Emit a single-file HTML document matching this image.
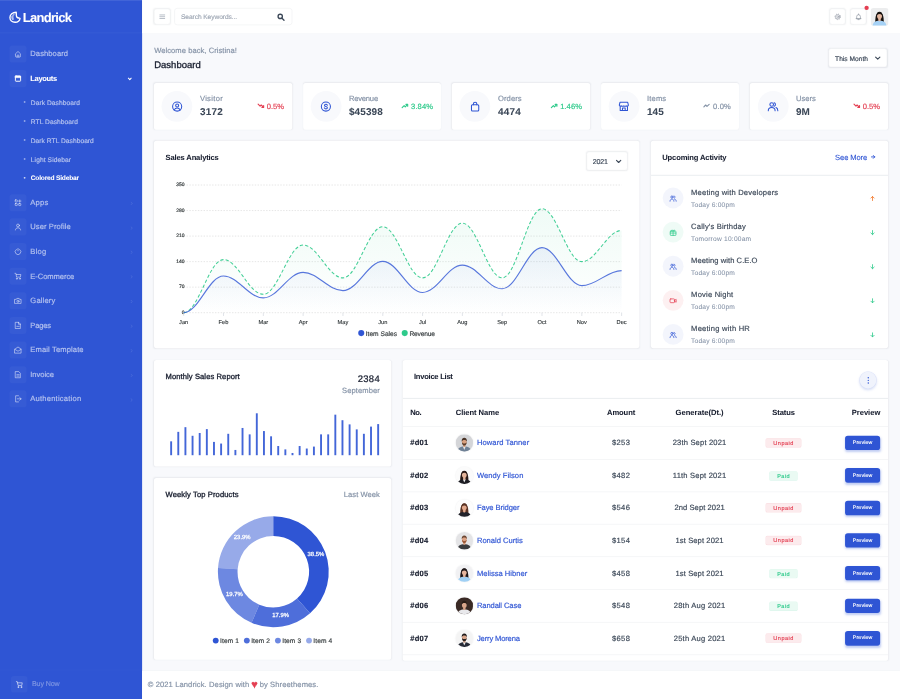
<!DOCTYPE html>
<html lang="en">
<head>
<meta charset="utf-8">
<title>Landrick - Dashboard</title>
<style>
*{box-sizing:border-box;margin:0;padding:0}
html,body{width:900px;height:699px;overflow:hidden;background:#f8f9fc}
body{font-family:"Liberation Sans",Arial,sans-serif;color:#3c4858}
#app{position:absolute;left:0;top:0;width:1900px;height:1476px;transform:scale(.4736842);transform-origin:0 0;text-rendering:geometricPrecision;-webkit-text-stroke:.35px;background:#f8f9fc;font-size:16px}
a{text-decoration:none;color:inherit}
ul{list-style:none}
.abs{position:absolute}
svg{display:block;overflow:visible}
/* sidebar */
#sidebar{position:absolute;left:0;top:0;width:300px;height:1476px;background:#2f55d4;color:#fff}
#sidebar .brand{position:absolute;left:0;top:0;width:300px;height:70px;border-bottom:1px solid rgba(255,255,255,.07);border-top:2px solid rgba(255,255,255,.09)}
#sidebar .brand>svg{position:absolute;left:19px;top:21.5px}
#sidebar .brand>span{position:absolute;left:48px;top:17px;font-size:27.5px;font-weight:700;line-height:36px;white-space:nowrap}
.menu li{position:absolute;left:0;width:300px;height:52px}
.menu li .ic{position:absolute;left:20px;top:8px;width:36px;height:36px;border-radius:6px;background:rgba(255,255,255,.035)}
.menu li .ic svg{position:absolute;left:10px;top:10px;width:16px;height:16px;stroke:rgba(255,255,255,.52);fill:none;stroke-width:2;stroke-linecap:round;stroke-linejoin:round}
.menu li.act .ic svg{stroke:#fff}
.menu li .t{position:absolute;left:64px;top:8px;line-height:36px;font-size:16px;color:rgba(255,255,255,.56);white-space:nowrap}
.menu li.act .t{color:#fff;font-weight:700}
.menu li .ar{position:absolute;left:274px;top:25.3px;width:5px;height:5px;border-right:1.5px solid rgba(255,255,255,.16);border-bottom:1.5px solid rgba(255,255,255,.16);transform:rotate(-45deg)}
.menu li.act .ar{border-color:#fff;transform:rotate(45deg);top:22px;left:271px;width:6px;height:6px;border-width:2.2px}
.sub li{position:absolute;left:0;width:300px;height:40px}
.sub li .t{position:absolute;left:65px;top:-1.2px;line-height:40px;font-size:14px;color:rgba(255,255,255,.56);white-space:nowrap}
.sub li:before{content:"";position:absolute;left:49.5px;top:17.8px;width:4.5px;height:3.2px;border-radius:1.6px;background:rgba(255,255,255,.6)}
.sub li.act .t{color:#fff;font-weight:700}
.sub li.act:before{background:#fff}
.sfoot{position:absolute;left:0;top:1414px;width:300px;height:62px;border-top:1px solid rgba(255,255,255,.04)}
.sfoot .ic{position:absolute;left:22.5px;top:11.5px;width:35.5px;height:35.5px;border-radius:6px;background:rgba(255,255,255,.035)}
.sfoot .t{position:absolute;left:67.5px;top:0;line-height:57px;font-size:15px;color:rgba(255,255,255,.3);white-space:nowrap}
.sfoot svg{position:absolute;left:32.5px;top:21.5px;width:16px;height:16px;stroke:rgba(255,255,255,.6);fill:none;stroke-width:2;stroke-linecap:round;stroke-linejoin:round}
/* header */
#top{position:absolute;left:300px;top:0;width:1600px;height:70px;background:#fff;box-shadow:0 .5px 3px rgba(60,72,88,.2)}
.btn-ic{position:absolute;width:34.7px;height:34.5px;border:1px solid #e9ecef;border-radius:6px;background:#fff;box-shadow:0 0 3px rgba(60,72,88,.08)}
.btn-ic svg{position:absolute;left:9px;top:9px;width:15px;height:15px;stroke:#8d94a0;fill:none;stroke-width:1.5;stroke-linecap:round;stroke-linejoin:round}
.search{position:absolute;left:68px;top:17px;width:249.3px;height:36px;border:1px solid #e9ecef;border-radius:6px;background:#fff}
.search .ph{position:absolute;left:13px;top:0px;line-height:34px;font-size:14px;color:#97a0ae;-webkit-text-stroke:.2px}
.search svg{position:absolute;left:216px;top:10px;width:16px;height:16px;stroke:#3c4858;fill:none;stroke-width:3;stroke-linecap:round}
.avatar{position:absolute;border-radius:6px;overflow:hidden}
/* cards */
.card{position:absolute;background:#fff;border-radius:6px;box-shadow:0 0 3px rgba(60,72,88,.08)}
.h6{position:absolute;font-size:16px;font-weight:700;color:#161c2d;white-space:nowrap;line-height:20px}
.muted{color:#8492a6}
#sidebar .brand>span,.menu li.act .t,.sub li.act .t,.h6,.stat .vl,.th{-webkit-text-stroke:.1px}
.row .no{-webkit-text-stroke:.3px}
.act-i .d{-webkit-text-stroke:.12px}
.f{position:relative;top:1.05px}
.sb{font-weight:400!important;-webkit-text-stroke:.65px currentColor!important}
.stat .circ{position:absolute;left:16.2px;top:17.2px;width:65px;height:65px;border-radius:50%;background:#f8f9fc}
.stat .circ svg{position:absolute;left:20.5px;top:20.7px;width:24px;height:24px;stroke:#2f55d4;fill:none;stroke-width:2.3;stroke-linecap:round;stroke-linejoin:round}
.stat .lb{position:absolute;left:97px;top:23.4px;font-size:16px;line-height:20px;color:#8492a6;white-space:nowrap}
.stat .vl{position:absolute;left:97px;top:46.4px;font-size:21px;line-height:26px;font-weight:700;color:#3c4858;white-space:nowrap}
.stat .pc{position:absolute;right:17px;top:40.5px;font-size:16px;line-height:20px;white-space:nowrap}
.stat .pc svg{display:inline-block;width:15px;height:11.2px;fill:none;stroke-width:2.6;stroke-linecap:round;stroke-linejoin:round;vertical-align:0;margin-right:5px}
.red{color:#e43f52}.grn{color:#2eca8b}.gry{color:#8492a6}
.red svg{stroke:#e43f52}.grn svg{stroke:#2eca8b}.gry svg{stroke:#8492a6}
.sel{position:absolute;border:1px solid #e9ecef;border-radius:6px;background:#fff;font-size:14px;color:#3c4858;box-shadow:0 0 3px rgba(60,72,88,.1)}
.sel>span{position:absolute;left:13px;top:1px;white-space:nowrap}
.sel svg{position:absolute;width:12px;height:8px;stroke:#3c4858;fill:none;stroke-width:2.4;stroke-linecap:round;stroke-linejoin:round}
.act-i{position:absolute;left:0;width:501px;height:72px}
.act-i .c{position:absolute;left:25px;top:0;width:44px;height:44px;border-radius:50%}
.act-i .c svg{position:absolute;left:14px;top:14.5px;width:16px;height:16px;fill:none;stroke-width:1.8;stroke-opacity:.85;stroke-linecap:round;stroke-linejoin:round}
.act-i .n{position:absolute;left:85px;top:0px;font-size:16px;line-height:20px;color:#3c4858;white-space:nowrap}
.act-i .d{position:absolute;left:85px;top:26px;font-size:14px;line-height:18px;color:#8492a6;white-space:nowrap}
.act-i .a{position:absolute;left:461.5px;top:16.5px;width:12px;height:12px;fill:none;stroke-width:2;stroke-linecap:round;stroke-linejoin:round}
/* table */
.th{position:absolute;top:96px;font-size:16px;font-weight:700;color:#161c2d;line-height:20px;white-space:nowrap}
.row{position:absolute;left:0;width:1025px;height:69px;border-top:1.5px solid #e9ecef}
.row>div{position:absolute;top:0;line-height:66.5px;font-size:16px;white-space:nowrap}
.row .no{left:16px;font-weight:700;color:#161c2d}
.row .nm{left:156px;color:#2f55d4}
.row .av{left:112px;top:15.8px;width:36.4px;height:36.4px;border-radius:50%;overflow:hidden;box-shadow:0 0 3px rgba(60,72,88,.15)}
.row .am{left:404px;width:100px;text-align:center;color:#3c4858}
.row .dt{left:520px;width:210px;text-align:center;color:#3c4858}
.row .st{left:766px;top:23.5px;width:76px;height:20px;line-height:18.5px;border-radius:4px;font-size:11px;font-weight:400;-webkit-text-stroke:.3px currentColor;text-align:center}
.row .st.u{background:rgba(228,63,82,.1);color:#e43f52;border:1px solid rgba(228,63,82,.1)}
.row .st.p{background:rgba(46,202,139,.1);color:#2eca8b;border:1px solid rgba(46,202,139,.1);margin-top:1.3px}
.row .bt{left:935px;top:18.5px;width:74.5px;height:30.5px;line-height:29.5px;border-radius:6px;background:#2f55d4;color:#fff;font-size:11px;font-weight:400;-webkit-text-stroke:.3px #fff;text-align:center;box-shadow:0 3px 5px 0 rgba(47,85,212,.3)}
footer{position:absolute;left:300px;top:1416px;width:1600px;height:60px;background:#fff;box-shadow:0 0 3px rgba(60,72,88,.15)}
footer p{position:absolute;left:12px;top:0;line-height:60px;font-size:16px;color:#8492a6;white-space:nowrap}
footer p b{color:#e43f52;font-weight:400;font-size:23px;line-height:0;letter-spacing:0;position:relative;top:1.5px;margin:0 -.5px;-webkit-text-stroke:.6px #e43f52}
</style>
</head>
<body>
<div id="app">

<nav id="sidebar">
<a class="brand" href="#"><svg width="27.5" height="27.5" viewBox="0 0 26 26" fill="none" stroke="#fff" stroke-linecap="round" stroke-linejoin="round" style="margin:-1px 0 0 -1px"><path d="M15.4 2.8C8 2.8 2.8 7.2 2.8 13.2c0 5.800 4.700 9.400 10.200 9.400 5.300 0 9.300-3.300 10-7.800-2.600-.3-5.800-.9-6.700-2.800-1-2.200-.7-6-.9-9.200z" stroke-width="2.700"/><path d="M10.800 6.500C8.5 9 7.5 13 9.5 16.5" stroke-width="3.200" stroke-opacity=".5"/><path d="M6.5 11.500c-.3 2 .3 4 1.5 5.5" stroke-width="2.5" stroke-opacity=".55"/></svg><span><span class="f" style="font-size:27.5px;letter-spacing:-1.54px">Landrick</span></span></a>
<ul class="menu">
<li style="top:87.5px"><a href="#"><span class="ic"><svg viewBox="0 0 16 16" ><path d="M3 7.300l5-4.600 5 4.600v6.200c0 .6-.4 1-1 1H4c-.6 0-1-.4-1-1z"/><path d="M6.300 14v-2.600a1.700 1.700 0 0 1 3.400 0V14"/></svg></span><span class="t"><span class="f" style="font-size:16.0px;letter-spacing:0.16px">Dashboard</span></span></a></li>
<li class="act" style="top:139.5px"><a href="#"><span class="ic"><svg viewBox="0 0 16 16" ><rect x="2.5" y="2.5" width="11" height="11" rx="1.2"/><path d="M2.5 2.5h11v3.5h-11z" style="fill:#fff;stroke-width:1"/></svg></span><span class="t"><span class="f" style="font-size:16.0px;letter-spacing:-0.79px">Layouts</span></span><i class="ar"></i></a></li>
</ul><ul class="sub">
<li style="top:196.5px"><a href="#"><span class="t"><span class="f" style="font-size:14.0px;letter-spacing:0.15px">Dark Dashboard</span></span></a></li>
<li style="top:236.5px"><a href="#"><span class="t"><span class="f" style="font-size:14.0px;letter-spacing:0.13px">RTL Dashboard</span></span></a></li>
<li style="top:276.5px"><a href="#"><span class="t"><span class="f" style="font-size:14.0px;letter-spacing:0.09px">Dark RTL Dashboard</span></span></a></li>
<li style="top:316.5px"><a href="#"><span class="t"><span class="f" style="font-size:14.0px;letter-spacing:0.21px">Light Sidebar</span></span></a></li>
<li class="act" style="top:356.5px"><a href="#"><span class="t"><span class="f" style="font-size:14.0px;letter-spacing:-0.44px">Colored Sidebar</span></span></a></li>
</ul><ul class="menu">
<li style="top:401.5px"><a href="#"><span class="ic"><svg viewBox="0 0 16 16" ><rect x="2" y="2" width="4.5" height="4.5" rx="1"/><rect x="2" y="9.5" width="4.5" height="4.5" rx="1"/><rect x="9.5" y="9.5" width="4.5" height="4.5" rx="1"/><path d="M11.75 2v5M9.25 4.5h5"/></svg></span><span class="t"><span class="f" style="font-size:16.0px;letter-spacing:0.51px">Apps</span></span><i class="ar"></i></a></li>
<li style="top:453.4px"><a href="#"><span class="ic"><svg viewBox="0 0 16 16" ><circle cx="8" cy="5" r="3"/><path d="M2.5 14.5c0-3 2.5-4.5 5.5-4.5s5.5 1.5 5.5 4.5"/></svg></span><span class="t"><span class="f" style="font-size:16.0px;letter-spacing:0.17px">User Profile</span></span><i class="ar"></i></a></li>
<li style="top:505.2px"><a href="#"><span class="ic"><svg viewBox="0 0 16 16" ><path d="M8 1.500v5"/><path d="M4.5 3.500a6 6 0 1 0 7 0"/></svg></span><span class="t"><span class="f" style="font-size:16.0px;letter-spacing:0.58px">Blog</span></span><i class="ar"></i></a></li>
<li style="top:557.0px"><a href="#"><span class="ic"><svg viewBox="0 0 16 16" ><path d="M1.5 2h2l1.5 8h8l1-5.500H4.5"/><circle cx="5.5" cy="13.5" r="1"/><circle cx="12" cy="13.5" r="1"/></svg></span><span class="t"><span class="f" style="font-size:16.0px;letter-spacing:-0.15px">E-Commerce</span></span><i class="ar"></i></a></li>
<li style="top:608.9px"><a href="#"><span class="ic"><svg viewBox="0 0 16 16" ><path d="M1.5 5h3l1-2h5l1 2h3v8.500h-13z"/><circle cx="8" cy="9" r="2.300"/></svg></span><span class="t"><span class="f" style="font-size:16.0px;letter-spacing:0.35px">Gallery</span></span><i class="ar"></i></a></li>
<li style="top:660.8px"><a href="#"><span class="ic"><svg viewBox="0 0 16 16" ><path d="M3 1.500h6.500l3.5 3.500v9.500H3z"/><path d="M9 1.500v4h4"/><path d="M5.5 10h5"/></svg></span><span class="t"><span class="f" style="font-size:16.0px;letter-spacing:-0.42px">Pages</span></span><i class="ar"></i></a></li>
<li style="top:712.6px"><a href="#"><span class="ic"><svg viewBox="0 0 16 16" ><path d="M1.5 6l6.500-4.5 6.5 4.500v8.500h-13z"/><path d="M1.5 6.500l6.5 4 6.500-4"/></svg></span><span class="t"><span class="f" style="font-size:16.0px;letter-spacing:0.26px">Email Template</span></span><i class="ar"></i></a></li>
<li style="top:764.5px"><a href="#"><span class="ic"><svg viewBox="0 0 16 16" ><path d="M3 1.500h6.500l3.5 3.500v9.500H3z"/><path d="M5.5 8h5M5.5 11h5"/></svg></span><span class="t"><span class="f" style="font-size:16.0px;letter-spacing:-0.11px">Invoice</span></span><i class="ar"></i></a></li>
<li style="top:816.3px"><a href="#"><span class="ic"><svg viewBox="0 0 16 16" ><path d="M9 1.500H3v13h6"/><path d="M6.5 8h8M11.5 5l3 3-3 3"/></svg></span><span class="t"><span class="f" style="font-size:16.0px;letter-spacing:0.45px">Authentication</span></span><i class="ar"></i></a></li>
</ul>
<div class="sfoot"><span class="ic"></span><svg viewBox="0 0 16 16" ><path d="M1.5 2h2l1.5 8h8l1-5.500H4.5"/><circle cx="5.5" cy="13.5" r="1"/><circle cx="12" cy="13.5" r="1"/></svg><span class="t"><span class="f" style="font-size:15.0px;letter-spacing:-0.26px">Buy Now</span></span></div>
</nav>
<header id="top">
<a class="btn-ic" style="left:25px;top:17.800px" href="#"><svg viewBox="0 0 16 16" style="stroke:#b4bac4;stroke-width:2.100;stroke-linecap:butt"><path d="M1.800 3.800h12.600M1.800 7.800h12.600M1.800 11.800h12.600"/></svg></a>
<div class="search"><span class="ph"><span class="f" style="font-size:14.0px;letter-spacing:-0.16px">Search Keywords...</span></span><svg viewBox="0 0 17 17"><circle cx="7" cy="7" r="4.800"/><path d="M11 11l4.5 4.5"/></svg></div>
<a class="btn-ic" style="left:1450.8px;top:17.800px" href="#"><svg viewBox="0 0 16 16"><circle cx="8" cy="8" r="6.300" stroke-dasharray="2 2.950" style="stroke-width:1.600;stroke-linecap:butt"/><circle cx="8" cy="8" r="5" style="stroke-width:1.300"/><circle cx="8" cy="8" r="2.100" style="stroke-width:1.300"/></svg></a>
<a class="btn-ic" style="left:1494.5px;top:17.800px" href="#"><svg viewBox="0 0 16 16"><path d="M3.800 12V7.500a4.200 4.200 0 0 1 8.400 0V12zM2.5 12h11M7 14.300h2M8 1.500v1.5"/></svg><i class="abs" style="left:29.500px;top:-6.500px;width:8.600px;height:8.600px;border-radius:50%;background:#e43f52"></i></a>
<a class="avatar" style="left:1538.4px;top:16.500px;width:37.500px;height:37px" href="#"><svg width="37.5" height="37.5" viewBox="0 0 36 36"><rect width="36" height="36" fill="#ecedee"/><path d="M9.5 31c-.5-9 .5-23 8.500-23s9 14 8.5 23z" fill="#17120f"/><path d="M4 37c0-8 5-11.5 14-11.500s14 3.5 14 11.500z" fill="#a6d2f6"/><rect x="15.5" y="20" width="5" height="6.5" rx="2" fill="#e3b69f"/><ellipse cx="18" cy="16" rx="5" ry="6.300" fill="#e3b69f"/><path d="M12 17c-.8-6 2-9.5 6-9.500s6.800 3.5 6 9.500c-.8-3-2.500-5-6-5s-5.200 2-6 5z" fill="#17120f"/></svg></a>
</header>
<main>
<div class="abs muted" style="left:325.5px;top:96.5px;font-size:16px;line-height:20px;white-space:nowrap"><span class="f" style="font-size:16.0px;letter-spacing:0.11px">Welcome back, Cristina!</span></div>
<div class="abs sb" style="left:325.5px;top:124.5px;font-size:20px;line-height:26px;color:#161c2d;white-space:nowrap"><span class="f" style="top:0.21px;font-size:20.0px;letter-spacing:0.04px">Dashboard</span></div>
<div class="sel" style="left:1749px;top:102.3px;width:124px;height:40px;line-height:38px"><span><span class="f" style="font-size:14.0px;letter-spacing:0.02px">This Month</span></span><svg viewBox="0 0 12 8" style="left:96.5px;top:15.5px"><path d="M1.5 1.500l4.5 4.5 4.500-4.5"/></svg></div>
<div class="card stat" style="left:325.0px;top:175px;width:291.5px;height:98.5px"><div class="circ"><svg viewBox="0 0 25 25"><circle cx="12.5" cy="12.5" r="10"/><circle cx="12.5" cy="10.2" r="3.300"/><path d="M6.200 19.800c1.200-3 3.600-4.300 6.300-4.300s5.100 1.300 6.300 4.300" style="fill:#2f55d4;fill-opacity:.0"/></svg></div><div class="lb"><span class="f" style="font-size:16.0px;letter-spacing:0.66px">Visitor</span></div><div class="vl"><span class="f" style="top:2.63px;font-size:21.0px;letter-spacing:0.47px">3172</span></div><div class="pc red"><svg viewBox="-1 0 16 12"><path d="M1 2l4.5 4.5 2.500-2.5 5 5"/><path d="M9.5 9.500h4v-4" /></svg><span class="f" style="font-size:16.0px;letter-spacing:0.02px">0.5%</span></div></div>
<div class="card stat" style="left:639.6px;top:175px;width:291.5px;height:98.5px"><div class="circ"><svg viewBox="0 0 25 25"><circle cx="12.5" cy="12.5" r="10"/><path d="M15.700 9.700c-.6-1.400-1.800-2.100-3.200-2.100-1.800 0-3.100 1-3.100 2.400 0 3.100 6.400 1.800 6.400 5 0 1.500-1.400 2.500-3.300 2.500-1.600 0-2.800-.8-3.400-2.200"/></svg></div><div class="lb"><span class="f" style="font-size:16.0px;letter-spacing:-0.40px">Revenue</span></div><div class="vl"><span class="f" style="top:2.63px;font-size:21.0px;letter-spacing:0.26px">$45398</span></div><div class="pc grn"><svg viewBox="0 0 16 12"><path d="M1 10l4.500-4.5 2.5 2.5 5-5"/><path d="M9.5 2.500h4v4"/></svg><span class="f" style="font-size:16.0px;letter-spacing:0.16px">3.84%</span></div></div>
<div class="card stat" style="left:954.2px;top:175px;width:291.5px;height:98.5px"><div class="circ"><svg viewBox="0 0 25 25"><rect x="4.5" y="8.5" width="16" height="13.5" rx="2.200"/><path d="M8.700 8.500V7a3.800 3.800 0 0 1 7.600 0v1.5"/></svg></div><div class="lb"><span class="f" style="font-size:16.0px;letter-spacing:0.23px">Orders</span></div><div class="vl"><span class="f" style="top:2.63px;font-size:21.0px;letter-spacing:0.47px">4474</span></div><div class="pc grn"><svg viewBox="0 0 16 12"><path d="M1 10l4.500-4.5 2.5 2.5 5-5"/><path d="M9.5 2.500h4v4"/></svg><span class="f" style="font-size:16.0px;letter-spacing:0.16px">1.46%</span></div></div>
<div class="card stat" style="left:1268.8px;top:175px;width:291.5px;height:98.5px"><div class="circ"><svg viewBox="0 0 25 25"><g transform="translate(0 -.8)"><path d="M4 4h17l1.5 6a3 3 0 0 1-5 1.5 3.5 3.5 0 0 1-5 0 3.5 3.5 0 0 1-5 0 3 3 0 0 1-5-1.500z"/><path d="M4.5 13v9h16v-9"/><path d="M9.5 22v-5.500h6V22"/></g></svg></div><div class="lb"><span class="f" style="font-size:16.0px;letter-spacing:0.35px">Items</span></div><div class="vl"><span class="f" style="top:2.63px;font-size:21.0px;letter-spacing:0.11px">145</span></div><div class="pc gry"><svg viewBox="0 0 16 12"><path d="M1 8l4-4 3 3 5-4.5"/></svg><span class="f" style="font-size:16.0px;letter-spacing:0.37px">0.0%</span></div></div>
<div class="card stat" style="left:1583.4px;top:175px;width:291.5px;height:98.5px"><div class="circ"><svg viewBox="0 0 25 25"><circle cx="9.5" cy="8" r="4"/><path d="M2 21.500c0-4.5 3.500-7 7.500-7s7.5 2.5 7.5 7"/><path d="M15 4.200a4 4 0 0 1 0 7.600M19 14.500c2.5 1 4 3.5 4 7"/></svg></div><div class="lb"><span class="f" style="font-size:16.0px;letter-spacing:-0.05px">Users</span></div><div class="vl"><span class="f" style="top:2.63px;font-size:21.0px;letter-spacing:-0.25px">9M</span></div><div class="pc red"><svg viewBox="-1 0 16 12"><path d="M1 2l4.5 4.5 2.500-2.5 5 5"/><path d="M9.5 9.500h4v-4" /></svg><span class="f" style="font-size:16.0px;letter-spacing:0.02px">0.5%</span></div></div>
<div class="card" style="left:325px;top:297.2px;width:1024.5px;height:438.3px">
<div class="h6" style="left:24.5px;top:25px"><span class="f" style="font-size:16.0px;letter-spacing:-0.31px">Sales Analytics</span></div>
<div class="sel" style="left:913px;top:23.3px;width:87px;height:40px;line-height:38px;font-size:15px"><span style="left:12.500px"><span class="f" style="font-size:15.0px;letter-spacing:-0.43px">2021</span></span><svg viewBox="0 0 12 8" style="left:60.500px;top:15.500px"><path d="M1.5 1.500l4.5 4.5 4.500-4.5"/></svg></div>
<svg class="abs" style="left:0;top:0" width="1024" height="438" viewBox="0 0 1024 438" font-family="Liberation Sans, Arial, sans-serif"><defs><linearGradient id="g1" x1="0" y1="0" x2="0" y2="1"><stop offset="0" stop-color="#2f55d4" stop-opacity=".07"/><stop offset="1" stop-color="#2f55d4" stop-opacity="0"/></linearGradient><linearGradient id="g2" x1="0" y1="0" x2="0" y2="1"><stop offset="0" stop-color="#2eca8b" stop-opacity=".075"/><stop offset="1" stop-color="#2eca8b" stop-opacity="0"/></linearGradient></defs><line x1="62.8" y1="363.1" x2="987.3" y2="363.1" stroke="#e0e0e0" stroke-width="1.7" stroke-dasharray="3 3"/><text x="64.6" y="365.5" text-anchor="end" font-size="10.5" stroke="#373d3f" stroke-width="0.4" fill="#373d3f">0</text><line x1="62.8" y1="309.2" x2="987.3" y2="309.2" stroke="#e0e0e0" stroke-width="1.7" stroke-dasharray="3 3"/><text x="64.6" y="311.6" text-anchor="end" font-size="10.5" stroke="#373d3f" stroke-width="0.4" fill="#373d3f">70</text><line x1="62.8" y1="255.3" x2="987.3" y2="255.3" stroke="#e0e0e0" stroke-width="1.7" stroke-dasharray="3 3"/><text x="64.6" y="257.7" text-anchor="end" font-size="10.5" stroke="#373d3f" stroke-width="0.4" fill="#373d3f">140</text><line x1="62.8" y1="201.4" x2="987.3" y2="201.4" stroke="#e0e0e0" stroke-width="1.7" stroke-dasharray="3 3"/><text x="64.6" y="203.8" text-anchor="end" font-size="10.5" stroke="#373d3f" stroke-width="0.4" fill="#373d3f">210</text><line x1="62.8" y1="147.5" x2="987.3" y2="147.5" stroke="#e0e0e0" stroke-width="1.7" stroke-dasharray="3 3"/><text x="64.6" y="149.9" text-anchor="end" font-size="10.5" stroke="#373d3f" stroke-width="0.4" fill="#373d3f">280</text><line x1="62.8" y1="93.6" x2="987.3" y2="93.6" stroke="#e0e0e0" stroke-width="1.7" stroke-dasharray="3 3"/><text x="64.6" y="96.0" text-anchor="end" font-size="10.5" stroke="#373d3f" stroke-width="0.4" fill="#373d3f">350</text><path d="M62.8 363.1C93.9 363.1 115.7 251.1 146.8 251.1C178.0 251.1 199.8 324.2 230.9 324.2C262.0 324.2 283.8 220.3 314.9 220.3C346.1 220.3 367.9 289.6 399.0 289.6C430.1 289.6 451.9 181.8 483.1 181.8C514.2 181.8 536.0 289.6 567.1 289.6C598.2 289.6 620.0 174.1 651.1 174.1C682.3 174.1 704.1 289.6 735.2 289.6C766.3 289.6 788.1 143.7 819.2 143.7C850.4 143.7 872.2 255.3 903.3 255.3C934.4 255.3 956.2 189.5 987.3 189.5L987.3 363.1L62.8 363.1Z" fill="url(#g2)"/><path d="M62.8 363.1C93.9 363.1 115.7 285.7 146.8 285.7C178.0 285.7 199.8 331.9 230.9 331.9C262.0 331.9 283.8 278.0 314.9 278.0C346.1 278.0 367.9 316.5 399.0 316.5C430.1 316.5 451.9 254.9 483.1 254.9C514.2 254.9 536.0 320.4 567.1 320.4C598.2 320.4 620.0 262.6 651.1 262.6C682.3 262.6 704.1 312.7 735.2 312.7C766.3 312.7 788.1 225.7 819.2 225.7C850.4 225.7 872.2 306.1 903.3 306.1C934.4 306.1 956.2 274.2 987.3 274.2L987.3 363.1L62.8 363.1Z" fill="url(#g1)"/><path d="M62.8 363.1C93.9 363.1 115.7 251.1 146.8 251.1C178.0 251.1 199.8 324.2 230.9 324.2C262.0 324.2 283.8 220.3 314.9 220.3C346.1 220.3 367.9 289.6 399.0 289.6C430.1 289.6 451.9 181.8 483.1 181.8C514.2 181.8 536.0 289.6 567.1 289.6C598.2 289.6 620.0 174.1 651.1 174.1C682.3 174.1 704.1 289.6 735.2 289.6C766.3 289.6 788.1 143.7 819.2 143.7C850.4 143.7 872.2 255.3 903.3 255.3C934.4 255.3 956.2 189.5 987.3 189.5" fill="none" stroke="#2eca8b" stroke-width="2.2" stroke-dasharray="7 4.5" stroke-opacity=".9"/><path d="M62.8 363.1C93.9 363.1 115.7 285.7 146.8 285.7C178.0 285.7 199.8 331.9 230.9 331.9C262.0 331.9 283.8 278.0 314.9 278.0C346.1 278.0 367.9 316.5 399.0 316.5C430.1 316.5 451.9 254.9 483.1 254.9C514.2 254.9 536.0 320.4 567.1 320.4C598.2 320.4 620.0 262.6 651.1 262.6C682.3 262.6 704.1 312.7 735.2 312.7C766.3 312.7 788.1 225.7 819.2 225.7C850.4 225.7 872.2 306.1 903.3 306.1C934.4 306.1 956.2 274.2 987.3 274.2" fill="none" stroke="#2f55d4" stroke-width="2.4" stroke-opacity=".8"/><line x1="62.8" y1="363.1" x2="62.8" y2="370.1" stroke="#d5d9e0" stroke-width="1.5"/><text x="62.8" y="386.9" text-anchor="middle" font-size="12" stroke="#373d3f" stroke-width="0.3" fill="#373d3f">Jan</text><line x1="146.8" y1="363.1" x2="146.8" y2="370.1" stroke="#d5d9e0" stroke-width="1.5"/><text x="146.8" y="386.9" text-anchor="middle" font-size="12" stroke="#373d3f" stroke-width="0.3" fill="#373d3f">Feb</text><line x1="230.9" y1="363.1" x2="230.9" y2="370.1" stroke="#d5d9e0" stroke-width="1.5"/><text x="230.9" y="386.9" text-anchor="middle" font-size="12" stroke="#373d3f" stroke-width="0.3" fill="#373d3f">Mar</text><line x1="314.9" y1="363.1" x2="314.9" y2="370.1" stroke="#d5d9e0" stroke-width="1.5"/><text x="314.9" y="386.9" text-anchor="middle" font-size="12" stroke="#373d3f" stroke-width="0.3" fill="#373d3f">Apr</text><line x1="399.0" y1="363.1" x2="399.0" y2="370.1" stroke="#d5d9e0" stroke-width="1.5"/><text x="399.0" y="386.9" text-anchor="middle" font-size="12" stroke="#373d3f" stroke-width="0.3" fill="#373d3f">May</text><line x1="483.1" y1="363.1" x2="483.1" y2="370.1" stroke="#d5d9e0" stroke-width="1.5"/><text x="483.1" y="386.9" text-anchor="middle" font-size="12" stroke="#373d3f" stroke-width="0.3" fill="#373d3f">Jun</text><line x1="567.1" y1="363.1" x2="567.1" y2="370.1" stroke="#d5d9e0" stroke-width="1.5"/><text x="567.1" y="386.9" text-anchor="middle" font-size="12" stroke="#373d3f" stroke-width="0.3" fill="#373d3f">Jul</text><line x1="651.1" y1="363.1" x2="651.1" y2="370.1" stroke="#d5d9e0" stroke-width="1.5"/><text x="651.1" y="386.9" text-anchor="middle" font-size="12" stroke="#373d3f" stroke-width="0.3" fill="#373d3f">Aug</text><line x1="735.2" y1="363.1" x2="735.2" y2="370.1" stroke="#d5d9e0" stroke-width="1.5"/><text x="735.2" y="386.9" text-anchor="middle" font-size="12" stroke="#373d3f" stroke-width="0.3" fill="#373d3f">Sep</text><line x1="819.2" y1="363.1" x2="819.2" y2="370.1" stroke="#d5d9e0" stroke-width="1.5"/><text x="819.2" y="386.9" text-anchor="middle" font-size="12" stroke="#373d3f" stroke-width="0.3" fill="#373d3f">Oct</text><line x1="903.3" y1="363.1" x2="903.3" y2="370.1" stroke="#d5d9e0" stroke-width="1.5"/><text x="903.3" y="386.9" text-anchor="middle" font-size="12" stroke="#373d3f" stroke-width="0.3" fill="#373d3f">Nov</text><line x1="987.3" y1="363.1" x2="987.3" y2="370.1" stroke="#d5d9e0" stroke-width="1.5"/><text x="987.3" y="386.9" text-anchor="middle" font-size="12" stroke="#373d3f" stroke-width="0.3" fill="#373d3f">Dec</text><circle cx="437.6" cy="406.2" r="6.4" fill="#2f55d4"/><text x="447.0" y="412.1" text-anchor="start" font-size="14" stroke="#373d3f" stroke-width="0.35" fill="#373d3f" textLength="66.3" lengthAdjust="spacing">Item Sales</text><circle cx="529.4" cy="406.2" r="6.4" fill="#2eca8b"/><text x="539.4" y="412.1" text-anchor="start" font-size="14" stroke="#373d3f" stroke-width="0.35" fill="#373d3f" textLength="54.0" lengthAdjust="spacing">Revenue</text></svg>
</div>
<div class="card" style="left:1374px;top:297px;width:501px;height:438px;overflow:hidden">
<div class="h6" style="left:24px;top:25px"><span class="f" style="font-size:16.0px;letter-spacing:-0.26px">Upcoming Activity</span></div>
<a class="abs" href="#" style="left:389px;top:25px;font-size:16px;line-height:20px;color:#2f55d4;white-space:nowrap;-webkit-text-stroke:.2px"><span class="f" style="font-size:16.0px;letter-spacing:-0.26px">See More</span> <svg style="display:inline-block;vertical-align:-.5px;margin-left:3px" width="10.5" height="10.5" viewBox="0 0 12 12" fill="none" stroke="#2f55d4" stroke-width="2.200" stroke-linecap="round" stroke-linejoin="round"><path d="M2 6h8M6.5 2.500l3.5 3.500-3.5 3.5"/></svg></a>
<div class="abs" style="left:0;top:72.3px;width:501px;height:1.5px;background:#e9ecef"></div>
<div class="act-i" style="top:99.3px"><div class="c" style="background:rgba(47,85,212,.06)"><svg viewBox="0 0 16 16" stroke="#2f55d4"><circle cx="5.600" cy="5" r="2.400"/><path d="M1.5 13.800c0-2.900 1.800-4.400 4.100-4.400s4.100 1.5 4.100 4.400"/><path d="M9.800 2.800a2.400 2.400 0 0 1 1.200 4.500M11.200 9.500c2 .3 3.400 1.800 3.400 4.300"/></svg></div><div class="n"><span class="f" style="font-size:16.0px;letter-spacing:0.39px">Meeting with Developers</span></div><div class="d"><span class="f" style="font-size:14.0px;letter-spacing:0.39px">Today 6:00pm</span></div><svg class="a" viewBox="0 0 14 14" stroke="#f17425"><path d="M7 12V2.500M3 6l4-4 4 4"/></svg></div>
<div class="act-i" style="top:171.3px"><div class="c" style="background:rgba(46,202,139,.08)"><svg viewBox="0 0 16 16" stroke="#2eca8b"><rect x="2" y="5" width="12" height="9" rx="1"/><path d="M8 5v9M2 9h12M5 5c-2-3 2-4 3 0 1-4 5-3 3 0"/></svg></div><div class="n"><span class="f" style="font-size:16.0px;letter-spacing:0.38px">Cally's Birthday</span></div><div class="d"><span class="f" style="font-size:14.0px;letter-spacing:0.46px">Tomorrow 10:00am</span></div><svg class="a" viewBox="0 0 14 14" stroke="#2eca8b"><path d="M7 2v9.500M3 8l4 4 4-4"/></svg></div>
<div class="act-i" style="top:243.3px"><div class="c" style="background:rgba(47,85,212,.06)"><svg viewBox="0 0 16 16" stroke="#2f55d4"><circle cx="5.600" cy="5" r="2.400"/><path d="M1.5 13.800c0-2.900 1.800-4.400 4.100-4.400s4.100 1.5 4.100 4.400"/><path d="M9.800 2.800a2.400 2.400 0 0 1 1.200 4.500M11.200 9.500c2 .3 3.400 1.800 3.400 4.300"/></svg></div><div class="n"><span class="f" style="font-size:16.0px;letter-spacing:0.14px">Meeting with C.E.O</span></div><div class="d"><span class="f" style="font-size:14.0px;letter-spacing:0.39px">Today 6:00pm</span></div><svg class="a" viewBox="0 0 14 14" stroke="#2eca8b"><path d="M7 2v9.500M3 8l4 4 4-4"/></svg></div>
<div class="act-i" style="top:315.3px"><div class="c" style="background:rgba(228,63,82,.08)"><svg viewBox="0 0 16 16" stroke="#e43f52"><rect x="1.5" y="4" width="9.5" height="8" rx="1.5"/><path d="M11 7l3.500-2v6l-3.500-2z"/></svg></div><div class="n"><span class="f" style="font-size:16.0px;letter-spacing:0.44px">Movie Night</span></div><div class="d"><span class="f" style="font-size:14.0px;letter-spacing:0.39px">Today 6:00pm</span></div><svg class="a" viewBox="0 0 14 14" stroke="#2eca8b"><path d="M7 2v9.500M3 8l4 4 4-4"/></svg></div>
<div class="act-i" style="top:387.3px"><div class="c" style="background:rgba(47,85,212,.06)"><svg viewBox="0 0 16 16" stroke="#2f55d4"><circle cx="5.600" cy="5" r="2.400"/><path d="M1.5 13.800c0-2.900 1.800-4.400 4.100-4.400s4.100 1.5 4.100 4.400"/><path d="M9.800 2.800a2.400 2.400 0 0 1 1.200 4.500M11.200 9.500c2 .3 3.400 1.800 3.400 4.300"/></svg></div><div class="n"><span class="f" style="font-size:16.0px;letter-spacing:0.47px">Meeting with HR</span></div><div class="d"><span class="f" style="font-size:14.0px;letter-spacing:0.39px">Today 6:00pm</span></div><svg class="a" viewBox="0 0 14 14" stroke="#2eca8b"><path d="M7 2v9.500M3 8l4 4 4-4"/></svg></div>
</div>
<div class="card" style="left:325px;top:760px;width:501px;height:225px">
<div class="h6 sb" style="left:24.5px;top:25.5px"><span class="f" style="font-size:16.0px;letter-spacing:0.19px">Monthly Sales Report</span></div>
<div class="abs" style="right:24px;top:25.5px;font-size:20px;line-height:26px;color:#161c2d;-webkit-text-stroke-width:.45px"><span class="f" style="font-size:20.0px;letter-spacing:0.51px">2384</span></div>
<div class="abs muted" style="right:24px;top:55px;font-size:16px;line-height:20px"><span class="f" style="font-size:16.0px;letter-spacing:0.17px">September</span></div>
<svg class="abs" style="left:0;top:0" width="501" height="224" viewBox="0 0 501 224"><rect x="34.30" y="171.7" width="4" height="29.3" fill="#2f55d4" fill-opacity=".9"/><rect x="49.37" y="151.7" width="4" height="49.3" fill="#2f55d4" fill-opacity=".9"/><rect x="64.44" y="141.8" width="4" height="59.2" fill="#2f55d4" fill-opacity=".9"/><rect x="79.51" y="160.0" width="4" height="41.0" fill="#2f55d4" fill-opacity=".9"/><rect x="94.58" y="154.1" width="4" height="46.9" fill="#2f55d4" fill-opacity=".9"/><rect x="109.65" y="145.9" width="4" height="55.1" fill="#2f55d4" fill-opacity=".9"/><rect x="124.72" y="172.9" width="4" height="28.1" fill="#2f55d4" fill-opacity=".9"/><rect x="139.79" y="176.4" width="4" height="24.6" fill="#2f55d4" fill-opacity=".9"/><rect x="154.86" y="155.8" width="4" height="45.2" fill="#2f55d4" fill-opacity=".9"/><rect x="169.93" y="189.9" width="4" height="11.1" fill="#2f55d4" fill-opacity=".9"/><rect x="185.00" y="143.5" width="4" height="57.5" fill="#2f55d4" fill-opacity=".9"/><rect x="200.07" y="157.0" width="4" height="44.0" fill="#2f55d4" fill-opacity=".9"/><rect x="215.14" y="112.5" width="4" height="88.5" fill="#2f55d4" fill-opacity=".9"/><rect x="230.21" y="150.0" width="4" height="51.0" fill="#2f55d4" fill-opacity=".9"/><rect x="245.28" y="161.1" width="4" height="39.9" fill="#2f55d4" fill-opacity=".9"/><rect x="260.35" y="181.6" width="4" height="19.4" fill="#2f55d4" fill-opacity=".9"/><rect x="275.42" y="188.7" width="4" height="12.3" fill="#2f55d4" fill-opacity=".9"/><rect x="290.49" y="196.3" width="4" height="4.7" fill="#2f55d4" fill-opacity=".9"/><rect x="305.56" y="181.6" width="4" height="19.4" fill="#2f55d4" fill-opacity=".9"/><rect x="320.63" y="186.9" width="4" height="14.1" fill="#2f55d4" fill-opacity=".9"/><rect x="335.70" y="182.8" width="4" height="18.2" fill="#2f55d4" fill-opacity=".9"/><rect x="350.77" y="157.0" width="4" height="44.0" fill="#2f55d4" fill-opacity=".9"/><rect x="365.84" y="157.0" width="4" height="44.0" fill="#2f55d4" fill-opacity=".9"/><rect x="380.91" y="115.4" width="4" height="85.6" fill="#2f55d4" fill-opacity=".9"/><rect x="395.98" y="127.1" width="4" height="73.9" fill="#2f55d4" fill-opacity=".9"/><rect x="411.05" y="135.9" width="4" height="65.1" fill="#2f55d4" fill-opacity=".9"/><rect x="426.12" y="146.5" width="4" height="54.5" fill="#2f55d4" fill-opacity=".9"/><rect x="441.19" y="155.8" width="4" height="45.2" fill="#2f55d4" fill-opacity=".9"/><rect x="456.26" y="140.6" width="4" height="60.4" fill="#2f55d4" fill-opacity=".9"/><rect x="471.33" y="135.3" width="4" height="65.7" fill="#2f55d4" fill-opacity=".9"/></svg>
</div>
<div class="card" style="left:325px;top:1009px;width:501px;height:384px">
<div class="h6 sb" style="left:24.5px;top:26px"><span class="f" style="font-size:16.0px;letter-spacing:0.24px">Weekly Top Products</span></div>
<div class="abs muted" style="right:24px;top:26px;font-size:16px;line-height:20px"><span class="f" style="font-size:16.0px;letter-spacing:0.09px">Last Week</span></div>
<svg class="abs" style="left:0;top:0" width="501" height="384" viewBox="0 0 501 384" font-family="Liberation Sans, Arial, sans-serif"><path d="M252.00 81.00A117 117 0 0 1 329.59 285.58L302.07 254.51A75.5 75.5 0 0 0 252.00 122.50Z" fill="#2f55d4" fill-opacity="1"/><path d="M329.59 285.58A117 117 0 0 1 206.14 305.64L222.41 267.46A75.5 75.5 0 0 0 302.07 254.51Z" fill="#2f55d4" fill-opacity="0.85"/><path d="M206.14 305.64A117 117 0 0 1 135.26 190.15L176.67 192.94A75.5 75.5 0 0 0 222.41 267.46Z" fill="#2f55d4" fill-opacity="0.7"/><path d="M135.26 190.15A117 117 0 0 1 252.00 81.00L252.00 122.50A75.5 75.5 0 0 0 176.67 192.94Z" fill="#2f55d4" fill-opacity="0.5"/><text x="342.0" y="164.7" text-anchor="middle" font-size="12.5" fill="#fff" stroke="#fff" stroke-width=".55">38.5%</text><text x="267.4" y="293.8" text-anchor="middle" font-size="12.5" fill="#fff" stroke="#fff" stroke-width=".55">17.9%</text><text x="170.0" y="249.1" text-anchor="middle" font-size="12.5" fill="#fff" stroke="#fff" stroke-width=".55">19.7%</text><text x="186.3" y="128.5" text-anchor="middle" font-size="12.5" fill="#fff" stroke="#fff" stroke-width=".55">23.9%</text><circle cx="130.4" cy="343.3" r="6.2" fill="#2f55d4" fill-opacity="1"/><text x="139.5" y="349.1" text-anchor="start" font-size="14" stroke="#373d3f" stroke-width="0.35" fill="#373d3f" textLength="39.9" lengthAdjust="spacing">Item 1</text><circle cx="196.1" cy="343.3" r="6.2" fill="#2f55d4" fill-opacity="0.85"/><text x="205.2" y="349.1" text-anchor="start" font-size="14" stroke="#373d3f" stroke-width="0.35" fill="#373d3f" textLength="39.9" lengthAdjust="spacing">Item 2</text><circle cx="261.7" cy="343.3" r="6.2" fill="#2f55d4" fill-opacity="0.7"/><text x="270.8" y="349.1" text-anchor="start" font-size="14" stroke="#373d3f" stroke-width="0.35" fill="#373d3f" textLength="39.9" lengthAdjust="spacing">Item 3</text><circle cx="327.4" cy="343.3" r="6.2" fill="#2f55d4" fill-opacity="0.5"/><text x="336.5" y="349.1" text-anchor="start" font-size="14" stroke="#373d3f" stroke-width="0.35" fill="#373d3f" textLength="39.9" lengthAdjust="spacing">Item 4</text></svg>
</div>
<div class="card" style="left:850px;top:760px;width:1025px;height:634.5px;overflow:hidden">
<div class="h6" style="left:24px;top:25px"><span class="f" style="font-size:16.0px;letter-spacing:-0.54px">Invoice List</span></div>
<div class="abs" style="left:963.5px;top:24px;width:37px;height:37px;border-radius:50%;background:rgba(47,85,212,.07);border:1px solid rgba(47,85,212,.12);box-shadow:0 3px 5px 0 rgba(47,85,212,.18)"><svg class="abs" style="left:16px;top:10px" width="4" height="16" viewBox="0 0 4 16" fill="#2f55d4"><circle cx="2" cy="2.5" r="1.5"/><circle cx="2" cy="8" r="1.5"/><circle cx="2" cy="13.5" r="1.5"/></svg></div>
<div class="abs" style="left:0;top:80.2px;width:1025px;height:1.5px;background:#e9ecef"></div>
<div class="th" style="left:16px;top:101.5px"><span class="f" style="font-size:16.0px;letter-spacing:-0.85px">No.</span></div><div class="th" style="left:112.3px;top:101.5px"><span class="f" style="font-size:16.0px;letter-spacing:-0.11px">Client Name</span></div><div class="th" style="left:361.2px;width:200px;text-align:center;top:101.5px"><span class="f" style="font-size:16.0px;letter-spacing:-0.14px">Amount</span></div><div class="th" style="left:526.9px;width:200px;text-align:center;top:101.5px"><span class="f" style="font-size:16.0px;letter-spacing:-0.00px">Generate(Dt.)</span></div><div class="th" style="left:704.3px;width:200px;text-align:center;top:101.5px"><span class="f" style="font-size:16.0px;letter-spacing:-0.15px">Status</span></div><div class="th" style="right:16.6px;top:101.5px"><span class="f" style="font-size:16.0px;letter-spacing:-0.02px">Preview</span></div>
<div class="row" style="top:140.20px"><div class="no" style="left:16px"><span class="f" style="font-size:16.0px;letter-spacing:0.51px">#d01</span></div><div class="av" style="left:112.3px"><svg width="36.4" height="36.4" viewBox="0 0 36 36"><rect width="36" height="36" fill="#d4d5d8"/><path d="M4 37c0-8 5-11.5 14-11.500s14 3.5 14 11.500z" fill="#6f8196"/><path d="M15 25.500l3 7 3-7z" fill="#e8e8e8"/><rect x="15.5" y="20" width="5" height="6.5" rx="2" fill="#d9a07e"/><ellipse cx="18" cy="16" rx="5" ry="6.300" fill="#d9a07e"/><path d="M13 16.500c.3 5 2.5 7 5 7s4.700-2 5-7c-1.5 1.800-3 2.500-5 2.500s-3.500-.7-5-2.500z" fill="#5a3d2b"/><path d="M12.600 15.500c-.6-5.5 2-8.300 5.400-8.300s6 2.800 5.400 8.300c-1-2.800-2.500-3.800-5.400-3.800s-4.400 1-5.400 3.800z" fill="#4a3327"/></svg></div><div class="nm" style="left:156.9px"><span class="f" style="font-size:16.0px;letter-spacing:0.17px">Howard Tanner</span></div><div class="am" style="left:401.2px;width:120px"><span class="f" style="font-size:16.0px;letter-spacing:0.80px">$253</span></div><div class="dt" style="left:516.9px;width:220px"><span class="f" style="font-size:16.0px;letter-spacing:0.36px">23th Sept 2021</span></div><div class="st u" style="left:766.3px;width:76px"><span class="f" style="font-size:11.7px;letter-spacing:1.12px">Unpaid</span></div><div class="bt" style="left:933.9px"><span class="f" style="font-size:11.0px;letter-spacing:0.31px">Preview</span></div></div>
<div class="row" style="top:208.96px"><div class="no" style="left:16px"><span class="f" style="top:2.11px;font-size:16.0px;letter-spacing:0.51px">#d02</span></div><div class="av" style="left:112.3px"><svg width="36.4" height="36.4" viewBox="0 0 36 36"><rect width="36" height="36" fill="#fbfbfb"/><path d="M9.5 31c-.5-9 .5-23 8.500-23s9 14 8.5 23z" fill="#2a1a16"/><path d="M4 37c0-8 5-11.5 14-11.500s14 3.5 14 11.500z" fill="#1c1c22"/><path d="M15 25.500l3 7 3-7z" fill="#f0f0f0"/><rect x="15.5" y="20" width="5" height="6.5" rx="2" fill="#e5b49a"/><ellipse cx="18" cy="16" rx="5" ry="6.300" fill="#e5b49a"/><path d="M12 17c-.8-6 2-9.5 6-9.500s6.800 3.5 6 9.500c-.8-3-2.500-5-6-5s-5.200 2-6 5z" fill="#2a1a16"/></svg></div><div class="nm" style="left:156.9px"><span class="f" style="top:2.11px;font-size:16.0px;letter-spacing:0.12px">Wendy Filson</span></div><div class="am" style="left:401.2px;width:120px"><span class="f" style="top:2.11px;font-size:16.0px;letter-spacing:0.80px">$482</span></div><div class="dt" style="left:516.9px;width:220px"><span class="f" style="top:2.11px;font-size:16.0px;letter-spacing:0.40px">11th Sept 2021</span></div><div class="st p" style="left:774.3px;width:60px"><span class="f" style="font-size:11.7px;letter-spacing:0.96px">Paid</span></div><div class="bt" style="left:933.9px"><span class="f" style="font-size:11.0px;letter-spacing:0.31px">Preview</span></div></div>
<div class="row" style="top:277.72px"><div class="no" style="left:16px"><span class="f" style="font-size:16.0px;letter-spacing:0.51px">#d03</span></div><div class="av" style="left:112.3px"><svg width="36.4" height="36.4" viewBox="0 0 36 36"><rect width="36" height="36" fill="#fdfdfd"/><path d="M9.5 31c-.5-9 .5-23 8.500-23s9 14 8.5 23z" fill="#5a3324"/><path d="M4 37c0-8 5-11.5 14-11.500s14 3.5 14 11.500z" fill="#22222a"/><rect x="15.5" y="20" width="5" height="6.5" rx="2" fill="#e2a98d"/><ellipse cx="18" cy="16" rx="5" ry="6.300" fill="#e2a98d"/><path d="M12 17c-.8-6 2-9.5 6-9.500s6.800 3.5 6 9.500c-.8-3-2.500-5-6-5s-5.200 2-6 5z" fill="#5a3324"/></svg></div><div class="nm" style="left:156.9px"><span class="f" style="font-size:16.0px;letter-spacing:-0.17px">Faye Bridger</span></div><div class="am" style="left:401.2px;width:120px"><span class="f" style="font-size:16.0px;letter-spacing:0.80px">$546</span></div><div class="dt" style="left:516.9px;width:220px"><span class="f" style="font-size:16.0px;letter-spacing:0.17px">2nd Sept 2021</span></div><div class="st u" style="left:766.3px;width:76px"><span class="f" style="font-size:11.7px;letter-spacing:1.12px">Unpaid</span></div><div class="bt" style="left:933.9px"><span class="f" style="font-size:11.0px;letter-spacing:0.31px">Preview</span></div></div>
<div class="row" style="top:346.48px"><div class="no" style="left:16px"><span class="f" style="font-size:16.0px;letter-spacing:0.51px">#d04</span></div><div class="av" style="left:112.3px"><svg width="36.4" height="36.4" viewBox="0 0 36 36"><rect width="36" height="36" fill="#e4e4e6"/><path d="M4 37c0-8 5-11.5 14-11.500s14 3.5 14 11.500z" fill="#3a3c40"/><rect x="15.5" y="20" width="5" height="6.5" rx="2" fill="#dca183"/><ellipse cx="18" cy="16" rx="5" ry="6.300" fill="#dca183"/><path d="M13 16.500c.3 5 2.5 7 5 7s4.700-2 5-7c-1.5 1.800-3 2.500-5 2.500s-3.500-.7-5-2.500z" fill="#9a5a3a"/><path d="M12.600 15.500c-.6-5.5 2-8.300 5.400-8.300s6 2.800 5.400 8.300c-1-2.800-2.500-3.800-5.400-3.800s-4.400 1-5.400 3.800z" fill="#6b4632"/></svg></div><div class="nm" style="left:156.9px"><span class="f" style="font-size:16.0px;letter-spacing:-0.02px">Ronald Curtis</span></div><div class="am" style="left:401.2px;width:120px"><span class="f" style="font-size:16.0px;letter-spacing:0.80px">$154</span></div><div class="dt" style="left:516.9px;width:220px"><span class="f" style="font-size:16.0px;letter-spacing:0.22px">1st Sept 2021</span></div><div class="st u" style="left:766.3px;width:76px"><span class="f" style="font-size:11.7px;letter-spacing:1.12px">Unpaid</span></div><div class="bt" style="left:933.9px"><span class="f" style="font-size:11.0px;letter-spacing:0.31px">Preview</span></div></div>
<div class="row" style="top:415.24px"><div class="no" style="left:16px"><span class="f" style="top:2.11px;font-size:16.0px;letter-spacing:0.51px">#d05</span></div><div class="av" style="left:112.3px"><svg width="36.4" height="36.4" viewBox="0 0 36 36"><rect width="36" height="36" fill="#f1f1f3"/><path d="M9.5 31c-.5-9 .5-23 8.500-23s9 14 8.5 23z" fill="#1f1718"/><path d="M4 37c0-8 5-11.5 14-11.500s14 3.5 14 11.500z" fill="#9fd0f5"/><rect x="15.5" y="20" width="5" height="6.5" rx="2" fill="#e6b59d"/><ellipse cx="18" cy="16" rx="5" ry="6.300" fill="#e6b59d"/><path d="M12 17c-.8-6 2-9.5 6-9.500s6.800 3.5 6 9.500c-.8-3-2.500-5-6-5s-5.200 2-6 5z" fill="#1f1718"/></svg></div><div class="nm" style="left:156.9px"><span class="f" style="top:2.11px;font-size:16.0px;letter-spacing:0.03px">Melissa Hibner</span></div><div class="am" style="left:401.2px;width:120px"><span class="f" style="top:2.11px;font-size:16.0px;letter-spacing:0.80px">$458</span></div><div class="dt" style="left:516.9px;width:220px"><span class="f" style="top:2.11px;font-size:16.0px;letter-spacing:0.22px">1st Sept 2021</span></div><div class="st p" style="left:774.3px;width:60px"><span class="f" style="font-size:11.7px;letter-spacing:0.96px">Paid</span></div><div class="bt" style="left:933.9px"><span class="f" style="font-size:11.0px;letter-spacing:0.31px">Preview</span></div></div>
<div class="row" style="top:484.00px"><div class="no" style="left:16px"><span class="f" style="font-size:16.0px;letter-spacing:0.51px">#d06</span></div><div class="av" style="left:112.3px"><svg width="36.4" height="36.4" viewBox="0 0 36 36"><rect width="36" height="36" fill="#3a2a25"/><path d="M4 37c0-8 5-11.5 14-11.500s14 3.5 14 11.500z" fill="#e9e9ec"/><rect x="15.5" y="20" width="5" height="6.5" rx="2" fill="#d9a58a"/><ellipse cx="18" cy="16" rx="5" ry="6.300" fill="#d9a58a"/><path d="M12.600 15.500c-.6-5.5 2-8.300 5.400-8.300s6 2.800 5.400 8.300c-1-2.800-2.500-3.800-5.400-3.800s-4.400 1-5.400 3.800z" fill="#2a1c16"/></svg></div><div class="nm" style="left:156.9px"><span class="f" style="font-size:16.0px;letter-spacing:-0.21px">Randall Case</span></div><div class="am" style="left:401.2px;width:120px"><span class="f" style="font-size:16.0px;letter-spacing:0.80px">$548</span></div><div class="dt" style="left:516.9px;width:220px"><span class="f" style="font-size:16.0px;letter-spacing:0.46px">28th Aug 2021</span></div><div class="st p" style="left:774.3px;width:60px"><span class="f" style="font-size:11.7px;letter-spacing:0.96px">Paid</span></div><div class="bt" style="left:933.9px"><span class="f" style="font-size:11.0px;letter-spacing:0.31px">Preview</span></div></div>
<div class="row" style="top:552.76px"><div class="no" style="left:16px"><span class="f" style="top:2.11px;font-size:16.0px;letter-spacing:0.51px">#d07</span></div><div class="av" style="left:112.3px"><svg width="36.4" height="36.4" viewBox="0 0 36 36"><rect width="36" height="36" fill="#f4f4f4"/><path d="M4 37c0-8 5-11.5 14-11.500s14 3.5 14 11.500z" fill="#262a36"/><path d="M15 25.500l3 7 3-7z" fill="#f0f0f0"/><rect x="15.5" y="20" width="5" height="6.5" rx="2" fill="#d9a58a"/><ellipse cx="18" cy="16" rx="5" ry="6.300" fill="#d9a58a"/><path d="M13 16.500c.3 5 2.5 7 5 7s4.700-2 5-7c-1.5 1.800-3 2.500-5 2.500s-3.500-.7-5-2.500z" fill="#2a2220"/><path d="M12.600 15.500c-.6-5.5 2-8.300 5.400-8.300s6 2.800 5.400 8.300c-1-2.800-2.500-3.800-5.400-3.800s-4.400 1-5.400 3.800z" fill="#1f1a1a"/></svg></div><div class="nm" style="left:156.9px"><span class="f" style="top:2.11px;font-size:16.0px;letter-spacing:-0.32px">Jerry Morena</span></div><div class="am" style="left:401.2px;width:120px"><span class="f" style="top:2.11px;font-size:16.0px;letter-spacing:0.80px">$658</span></div><div class="dt" style="left:516.9px;width:220px"><span class="f" style="top:2.11px;font-size:16.0px;letter-spacing:0.46px">25th Aug 2021</span></div><div class="st u" style="left:766.3px;width:76px"><span class="f" style="font-size:11.7px;letter-spacing:1.12px">Unpaid</span></div><div class="bt" style="left:933.9px"><span class="f" style="font-size:11.0px;letter-spacing:0.31px">Preview</span></div></div>
<div class="row" style="top:621.52px;height:10px"></div>
</div>
</main>
<footer><p><span class="f" style="font-size:16.0px;letter-spacing:0.21px">© 2021 Landrick. Design with <b>♥</b> by Shreethemes.</span></p></footer>
</div>
</body>
</html>
